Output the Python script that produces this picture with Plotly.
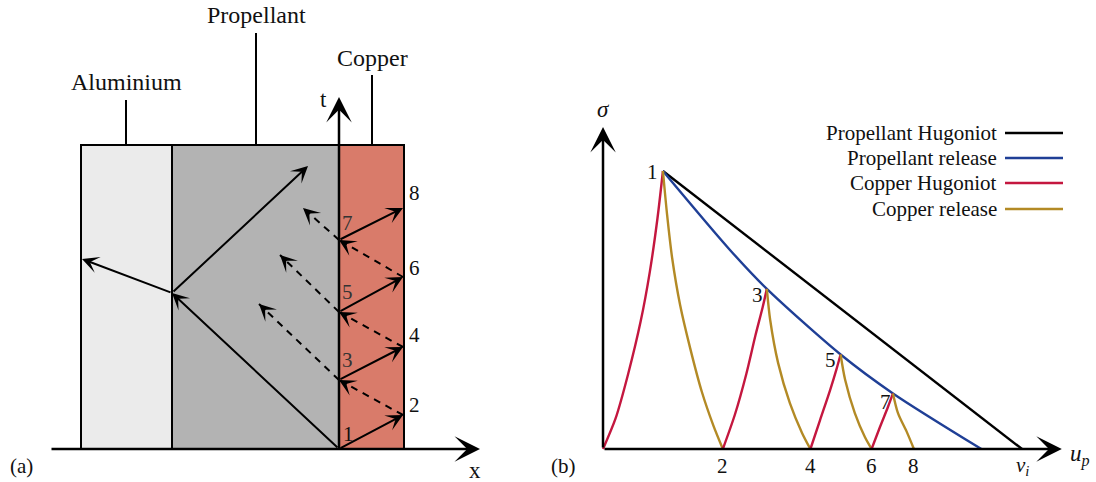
import math
import plotly.graph_objects as go

# ---------------- Panel (a): x-t wave diagram ----------------
layer_names = ["Aluminium", "Propellant", "Copper"]
layer_x0 = [-2.58, -1.67, 0.0]
layer_x1 = [-1.67, 0.0, 0.65]
layer_top = 3.04
layer_colors = ["#ebebeb", "#b3b3b3", "#d97b6a"]
label_line_x = [-2.13, -0.83, 0.33]
label_line_top = [3.49, 4.16, 3.74]
label_text_t = [3.67, 4.34, 3.91]

# reverberation points 1..8 inside the copper
ring_labels = ["1", "2", "3", "4", "5", "6", "7", "8"]
ring_x = [0.0, 0.64, 0.0, 0.64, 0.0, 0.64, 0.0, 0.64]
ring_t = [0.0, 0.34, 0.69, 1.02, 1.37, 1.72, 2.09, 2.41]
ring_label_x = [0.09, 0.75, 0.08, 0.75, 0.08, 0.75, 0.08, 0.75]
ring_label_t = [0.15, 0.44, 0.89, 1.14, 1.57, 1.81, 2.26, 2.56]

# waves in the propellant / aluminium
iface_x, iface_t = -1.67, 1.56
al_wave_x, al_wave_t = -2.57, 1.90
reflect_x, reflect_t = -0.31, 2.83
release_from = [2, 4, 6]              # indices of points 3, 5, 7
release_end_x = [-0.80, -0.59, -0.36]
release_end_t = [1.45, 1.94, 2.41]

# ---------------- Panel (b): sigma - u_p diagram ----------------
prop_hug_u = [0.143, 1.0]
prop_hug_s = [1.0, 0.0]
prop_rel_u = [0.143, 0.303, 0.391, 0.567, 0.692, 0.903]
prop_rel_s = [1.0, 0.716, 0.576, 0.340, 0.200, 0.0]

cu_hug_u = [
    [0.0, 0.03, 0.06, 0.09, 0.112, 0.13, 0.143],
    [0.286, 0.315, 0.342, 0.364, 0.381, 0.391],
    [0.495, 0.518, 0.542, 0.558, 0.567],
    [0.641, 0.661, 0.680, 0.692],
]
cu_hug_s = [
    [0.0, 0.11, 0.27, 0.46, 0.64, 0.83, 1.0],
    [0.0, 0.125, 0.27, 0.41, 0.51, 0.576],
    [0.0, 0.104, 0.212, 0.291, 0.340],
    [0.0, 0.079, 0.151, 0.200],
]
cu_rel_u = [
    [0.143, 0.153, 0.165, 0.184, 0.208, 0.236, 0.263, 0.286],
    [0.391, 0.399, 0.418, 0.446, 0.475, 0.495],
    [0.567, 0.578, 0.601, 0.625, 0.641],
    [0.692, 0.704, 0.726, 0.742],
]
cu_rel_s = [
    [1.0, 0.842, 0.687, 0.518, 0.363, 0.205, 0.086, 0.0],
    [0.576, 0.464, 0.309, 0.165, 0.058, 0.0],
    [0.340, 0.248, 0.129, 0.043, 0.0],
    [0.200, 0.129, 0.058, 0.0],
]
peak_labels = ["1", "3", "5", "7"]
peak_label_u = [0.119, 0.368, 0.544, 0.675]
peak_label_s = [0.996, 0.554, 0.320, 0.169]
foot_labels = ["2", "4", "6", "8", "<i>v</i><sub><i>i</i></sub>"]
foot_u = [0.286, 0.495, 0.641, 0.742, 1.0]

legend_names = ["Propellant Hugoniot", "Propellant release", "Copper Hugoniot", "Copper release"]
COL_BLACK = "#000000"
COL_BLUE = "#1f3f96"
COL_RED = "#c4173f"
COL_GOLD = "#b38a25"
legend_colors = [COL_BLACK, COL_BLUE, COL_RED, COL_GOLD]

FONT = "Liberation Serif"
W, H = 1096, 482

fig = go.Figure()
shapes = []
annotations = []


def arrow(xh, yh, xt, yt, xr, yr, width=2.0, size=1.4, head=3):
    annotations.append(dict(x=xh, y=yh, ax=xt, ay=yt, xref=xr, yref=yr,
                            axref=xr, ayref=yr, showarrow=True, text="",
                            arrowhead=head, arrowsize=size, arrowwidth=width,
                            arrowcolor="black", standoff=0, startstandoff=0))


def dashed_arrow(xh, yh, xt, yt, xr, yr):
    shapes.append(dict(type="line", xref=xr, yref=yr, x0=xt, y0=yt, x1=xh, y1=yh,
                       line=dict(color="black", width=2, dash="7px,6px")))
    d = math.hypot(xh - xt, yh - yt)
    k = 0.10 / d
    arrow(xh, yh, xh - (xh - xt) * k, yh - (yh - yt) * k, xr, yr)


def text(x, y, s, xr, yr, size=20, color="#111", xanchor="center"):
    annotations.append(dict(x=x, y=y, xref=xr, yref=yr, text=s, showarrow=False,
                            xanchor=xanchor, yanchor="middle",
                            font=dict(family=FONT, size=size, color=color)))


# ---- panel (a) ----
for i in range(3):
    shapes.append(dict(type="rect", xref="x", yref="y", x0=layer_x0[i], x1=layer_x1[i],
                       y0=0, y1=layer_top, fillcolor=layer_colors[i],
                       line=dict(color="black", width=2), layer="below"))
    shapes.append(dict(type="line", xref="x", yref="y", x0=label_line_x[i], x1=label_line_x[i],
                       y0=layer_top, y1=label_line_top[i], line=dict(color="black", width=2)))
    text(label_line_x[i], label_text_t[i], layer_names[i], "x", "y", size=24)

# x and t axes
arrow(1.41, 0.0, -2.89, 0.0, "x", "y", width=2.5, size=1.7)
arrow(0.0, 3.52, 0.0, 0.0, "x", "y", width=2.5, size=1.7)
text(1.36, -0.21, "x", "x", "y", size=23)
text(-0.16, 3.50, "t", "x", "y", size=23)

# shock into propellant and its transmitted / reflected waves
arrow(iface_x, iface_t, ring_x[0], ring_t[0], "x", "y")
arrow(al_wave_x, al_wave_t, iface_x, iface_t, "x", "y")
arrow(reflect_x, reflect_t, iface_x, iface_t, "x", "y")

# reverberations in copper
for i in range(7):
    if i % 2 == 0:
        arrow(ring_x[i + 1], ring_t[i + 1], ring_x[i], ring_t[i], "x", "y")
    else:
        dashed_arrow(ring_x[i + 1], ring_t[i + 1], ring_x[i], ring_t[i], "x", "y")
for j, idx in enumerate(release_from):
    dashed_arrow(release_end_x[j], release_end_t[j], ring_x[idx], ring_t[idx], "x", "y")
for i in range(8):
    text(ring_label_x[i], ring_label_t[i], ring_labels[i], "x", "y", size=21,
         color="#333" if ring_x[i] == 0 and i > 0 else "#111")

# ---- panel (b) ----
fig.add_trace(go.Scatter(x=prop_hug_u, y=prop_hug_s, mode="lines", xaxis="x2", yaxis="y2",
                         line=dict(color=COL_BLACK, width=2.4), showlegend=False))
fig.add_trace(go.Scatter(x=prop_rel_u, y=prop_rel_s, mode="lines", xaxis="x2", yaxis="y2",
                         line=dict(color=COL_BLUE, width=2.4, shape="spline", smoothing=0.8),
                         showlegend=False))
for k in range(4):
    fig.add_trace(go.Scatter(x=cu_hug_u[k], y=cu_hug_s[k], mode="lines", xaxis="x2", yaxis="y2",
                             line=dict(color=COL_RED, width=2.4, shape="spline", smoothing=0.8),
                             showlegend=False))
    fig.add_trace(go.Scatter(x=cu_rel_u[k], y=cu_rel_s[k], mode="lines", xaxis="x2", yaxis="y2",
                             line=dict(color=COL_GOLD, width=2.4, shape="spline", smoothing=0.8),
                             showlegend=False))

arrow(0.0, 1.158, 0.0, 0.0, "x2", "y2", width=2.5, size=1.7)
arrow(1.095, 0.0, 0.0, 0.0, "x2", "y2", width=2.5, size=1.7)
text(0.0, 1.22, "<i>σ</i>", "x2", "y2", size=23)
text(1.138, -0.025, "<i>u</i><sub><i>p</i></sub>", "x2", "y2", size=23)
for k in range(4):
    text(peak_label_u[k], peak_label_s[k], peak_labels[k], "x2", "y2", size=21)
for k in range(5):
    text(foot_u[k], -0.062, foot_labels[k], "x2", "y2", size=21)

# legend (text left of line sample)
leg_y = [133, 158, 183, 209]
for k in range(4):
    annotations.append(dict(x=999 / W, y=1 - leg_y[k] / H, xref="paper", yref="paper",
                            text=legend_names[k], showarrow=False, xanchor="right",
                            yanchor="middle", font=dict(family=FONT, size=21, color="#111")))
    shapes.append(dict(type="line", xref="paper", yref="paper", x0=1005 / W, x1=1063 / W,
                       y0=1 - leg_y[k] / H, y1=1 - leg_y[k] / H,
                       line=dict(color=legend_colors[k], width=2.4)))

# panel tags
annotations.append(dict(x=21 / W, y=1 - 466 / H, xref="paper", yref="paper", text="(a)",
                        showarrow=False, xanchor="center", yanchor="middle",
                        font=dict(family=FONT, size=21, color="#111")))
annotations.append(dict(x=563 / W, y=1 - 466 / H, xref="paper", yref="paper", text="(b)",
                        showarrow=False, xanchor="center", yanchor="middle",
                        font=dict(family=FONT, size=21, color="#111")))

fig.update_layout(
    width=W, height=H, autosize=False,
    margin=dict(l=0, r=0, t=0, b=0),
    paper_bgcolor="white", plot_bgcolor="white",
    font=dict(family=FONT),
    xaxis=dict(domain=[0, 0.5], range=[-3.39, 2.09], visible=False, fixedrange=True),
    yaxis=dict(domain=[0, 1], range=[-0.33, 4.49], visible=False, fixedrange=True),
    xaxis2=dict(domain=[0.5, 1], range=[-0.1313, 1.1766], visible=False, anchor="y2"),
    yaxis2=dict(domain=[0, 1], range=[-0.1187, 1.6151], visible=False, anchor="x2"),
    shapes=shapes, annotations=annotations,
    showlegend=False,
)

fig.write_html("out.html")
